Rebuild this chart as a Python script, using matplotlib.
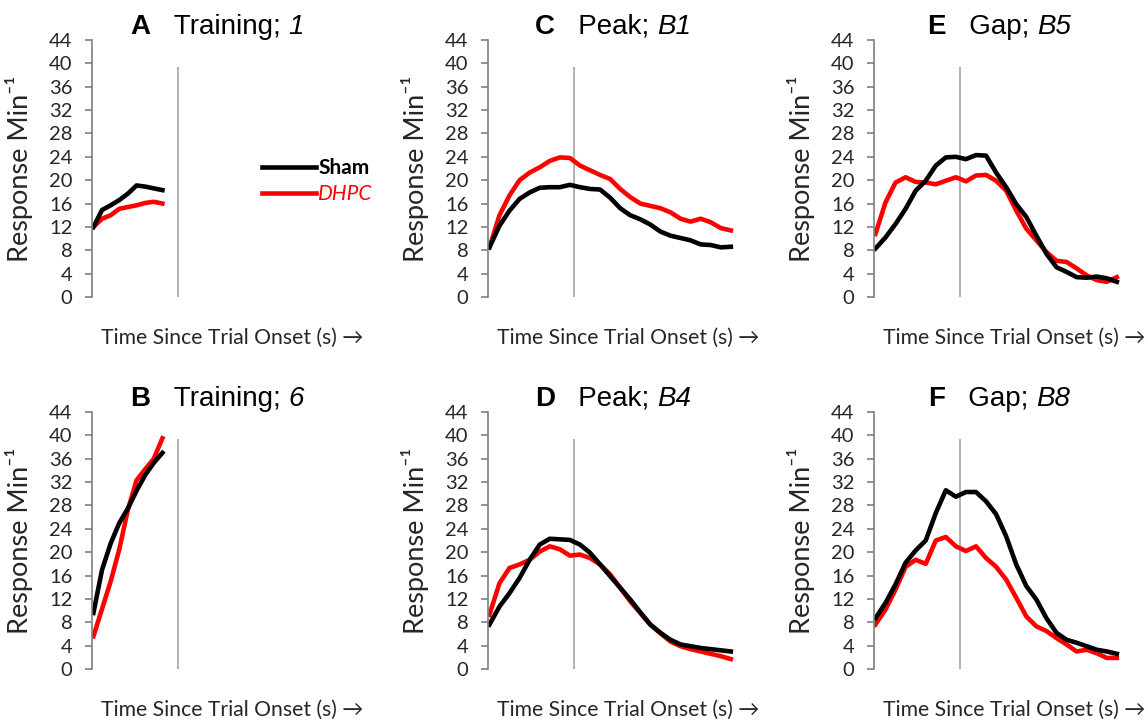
import matplotlib
matplotlib.use("Agg")
import matplotlib.pyplot as plt
from matplotlib.transforms import offset_copy

# time bins (s); training trials stop at reinforcement, probe trials run longer
train_time = [0.5, 3.5, 6.5, 9.5, 12.5, 15.5, 18.5, 21.5, 24.5]
probe_time = [0.5, 4.0, 7.5, 11.0, 14.5, 18.0, 21.5, 25.0, 28.5, 32.0, 35.5, 39.0, 42.5,
              46.0, 49.5, 53.0, 56.5, 60.0, 63.5, 67.0, 70.5, 74.0, 77.5, 81.0, 84.5]
criterion = 30
yticks = list(range(0, 45, 4))

sham_train1 = [12.0, 14.9, 15.7, 16.6, 17.7, 19.1, 18.9, 18.6, 18.3]
dhpc_train1 = [12.0, 13.4, 14.0, 15.1, 15.4, 15.7, 16.1, 16.3, 16.0]
sham_train6 = [9.6, 17.0, 21.5, 25.0, 27.5, 30.5, 33.2, 35.3, 37.0]
dhpc_train6 = [5.6, 10.3, 15.0, 20.5, 27.3, 32.3, 34.2, 36.0, 39.5]

sham_peak_b1 = [8.5, 12.2, 14.8, 16.8, 17.9, 18.7, 18.8, 18.8, 19.2, 18.8, 18.5, 18.4, 17.0,
                15.2, 14.0, 13.3, 12.4, 11.2, 10.5, 10.1, 9.7, 9.0, 8.9, 8.5, 8.6]
dhpc_peak_b1 = [8.5, 14.0, 17.4, 20.0, 21.3, 22.2, 23.3, 23.9, 23.8, 22.5, 21.7, 20.9, 20.2,
                18.5, 17.1, 16.0, 15.6, 15.2, 14.5, 13.4, 12.9, 13.4, 12.8, 11.8, 11.4]
sham_peak_b4 = [7.6, 10.7, 13.0, 15.6, 18.7, 21.3, 22.3, 22.2, 22.1, 21.3, 19.9, 17.9, 15.9,
                13.9, 11.9, 9.7, 7.6, 6.2, 5.0, 4.2, 3.9, 3.6, 3.4, 3.2, 3.0]
dhpc_peak_b4 = [9.3, 14.7, 17.3, 17.9, 18.7, 20.1, 21.0, 20.5, 19.4, 19.6, 19.0, 17.9, 16.2,
                13.9, 11.6, 9.6, 7.6, 6.1, 4.7, 3.9, 3.4, 3.0, 2.6, 2.2, 1.7]
sham_gap_b5 = [8.3, 10.2, 12.5, 15.1, 18.2, 19.9, 22.5, 23.9, 24.0, 23.6, 24.3, 24.2, 21.3,
               18.8, 15.9, 13.7, 10.5, 7.4, 5.1, 4.3, 3.4, 3.3, 3.5, 3.2, 2.6]
dhpc_gap_b5 = [10.8, 16.2, 19.6, 20.5, 19.7, 19.6, 19.3, 19.9, 20.5, 19.8, 20.8, 20.9, 19.9,
               18.2, 14.8, 11.7, 9.7, 7.7, 6.2, 6.0, 4.9, 3.7, 2.9, 2.6, 3.4]
sham_gap_b8 = [8.7, 11.3, 14.5, 18.2, 20.3, 22.0, 26.7, 30.6, 29.5, 30.3, 30.3, 28.7, 26.5,
               22.7, 17.9, 14.2, 11.9, 8.7, 6.2, 5.0, 4.5, 3.9, 3.3, 3.0, 2.6]
dhpc_gap_b8 = [7.6, 10.2, 13.6, 17.5, 18.7, 18.0, 22.0, 22.6, 21.0, 20.2, 21.0, 19.0, 17.5,
               15.3, 12.2, 9.0, 7.3, 6.5, 5.3, 4.2, 3.0, 3.3, 2.7, 1.9, 1.9]

panels = [
    ("A", "Training; ", "1", train_time, sham_train1, dhpc_train1),
    ("B", "Training; ", "6", train_time, sham_train6, dhpc_train6),
    ("C", "Peak; ", "B1", probe_time, sham_peak_b1, dhpc_peak_b1),
    ("D", "Peak; ", "B4", probe_time, sham_peak_b4, dhpc_peak_b4),
    ("E", "Gap; ", "B5", probe_time, sham_gap_b5, dhpc_gap_b5),
    ("F", "Gap; ", "B8", probe_time, sham_gap_b8, dhpc_gap_b8),
]

W, H = 1145, 721
fig = plt.figure(figsize=(W / 100, H / 100), dpi=100)
renderer = fig.canvas.get_renderer()
col_left = [92, 488, 874]
row_bottom = [297, 669]
ax_w, ax_h = 250, 257


def title_parts(ax, letter, name, sess):
    # bold letter, plain name, italic session, laid out side by side and centred
    kw = dict(transform=ax.transAxes, fontfamily="Liberation Sans", fontsize=20,
              va="baseline", ha="left")
    parts = [ax.text(0, 1.025, letter, fontweight="bold", **kw),
             ax.text(0, 1.025, "   " + name, **kw),
             ax.text(0, 1.025, sess, fontstyle="italic", **kw)]
    widths = [p.get_window_extent(renderer).width for p in parts]
    x0 = -sum(widths) / 2
    for p, w in zip(parts, widths):
        p.set_transform(offset_copy(ax.transAxes, fig=fig, x=ax_w / 2 + x0, y=0,
                                    units="dots"))
        p.set_x(0)
        x0 += w


for i, (letter, name, sess, t, sham, dhpc) in enumerate(panels):
    col, row = i // 2, i % 2
    ax = fig.add_axes([col_left[col] / W, 1 - row_bottom[row] / H, ax_w / W, ax_h / H])
    ax.vlines(criterion, 0, 39.3, color="#a6a6a6", lw=1.2)
    l_dhpc, = ax.plot(t, dhpc, color="#ff0000", lw=3.3, label="DHPC", solid_joinstyle="round")
    l_sham, = ax.plot(t, sham, color="black", lw=3.3, label="Sham", solid_joinstyle="round")
    ax.set_xlim(0, 87)
    ax.set_ylim(0, 44)
    ax.set_yticks(yticks)
    for s in ("top", "right", "bottom"):
        ax.spines[s].set_visible(False)
    ax.spines["left"].set_color("#7f7f7f")
    ax.spines["left"].set_linewidth(1.2)
    ax.set_xticks([])
    ax.tick_params(axis="y", length=5, width=1.2, color="#7f7f7f", pad=9,
                   labelcolor="#262626")
    for lab in ax.get_yticklabels():
        lab.set_fontfamily("Lato")
        lab.set_fontsize(14.5)
    ax.set_ylabel("Response Min\u207b\u00b9", fontfamily=["Lato", "DejaVu Sans"],
                  fontsize=19.5, color="#262626")
    ax.yaxis.set_label_coords(-0.235, 0.5)
    ax.text(0.035, -0.16, "Time Since Trial Onset (s) \u2192", transform=ax.transAxes,
            fontfamily=["Lato", "DejaVu Sans"], fontsize=15.2, color="#262626",
            ha="left", va="center")
    title_parts(ax, letter, name, sess)
    if i == 0:
        leg = ax.legend(handles=[l_sham, l_dhpc], loc="upper left",
                        bbox_to_anchor=(0.68, 0.54), frameon=False, handlelength=2.6,
                        handletextpad=0.1, borderpad=0, borderaxespad=0,
                        labelspacing=0.3, prop={"family": "Lato", "size": 15})
        txt = leg.get_texts()
        txt[0].set_fontweight("bold")
        txt[1].set_color("#ff0000")
        txt[1].set_fontstyle("italic")

fig.savefig("out.png", dpi=100)
